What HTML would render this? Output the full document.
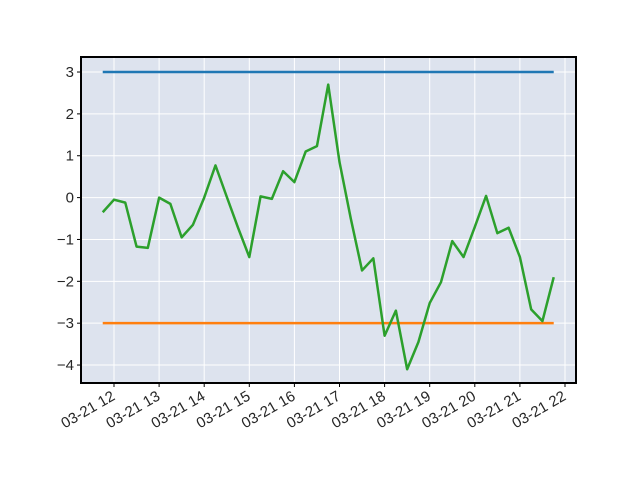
<!DOCTYPE html>
<html><head><meta charset="utf-8"><style>
body{margin:0;background:#fff;}
text{font-family:"Liberation Sans","DejaVu Sans",sans-serif;font-size:15px;fill:#262626;}
</style></head><body>
<svg id="chart" width="640" height="480">
<rect x="81" y="57" width="495" height="326" fill="#dde3ee"/>
<g id="grid"></g><g id="series"></g>
<rect x="81" y="57" width="495" height="326" fill="none" stroke="#000" stroke-width="2"/>
<g id="axes"></g>
</svg>
<script>
const yTicks=[-4,-3,-2,-1,0,1,2,3];
const xHours=[12,13,14,15,16,17,18,19,20,21,22];
const xTickLabels=["03-21 12","03-21 13","03-21 14","03-21 15","03-21 16","03-21 17","03-21 18","03-21 19","03-21 20","03-21 21","03-21 22"];
const startHour=11.75, stepHour=0.25;
const upperValues=3, lowerValues=-3;
const greenValues=[-0.35,-0.05,-0.12,-1.17,-1.2,0.0,-0.15,-0.95,-0.65,0.0,0.77,0.02,-0.72,-1.42,0.03,-0.03,0.63,0.37,1.1,1.23,2.7,0.85,-0.5,-1.74,-1.45,-3.3,-2.7,-4.1,-3.45,-2.52,-2.02,-1.04,-1.42,-0.7,0.04,-0.85,-0.72,-1.42,-2.67,-2.95,-1.9];
const NS="http://www.w3.org/2000/svg";
const xs=h=>114+(h-12)*45.1;
const ys=v=>197.6-v*41.86;
function mk(p,t,a){const e=document.createElementNS(NS,t);for(const k in a)e.setAttribute(k,a[k]);p.appendChild(e);return e;}
const grid=document.getElementById('grid'),axes=document.getElementById('axes'),ser=document.getElementById('series');
yTicks.forEach(v=>{const y=ys(v);
 const l=mk(grid,'line',{x1:81,x2:576,y1:y,y2:y,stroke:'#fff','stroke-width':1});
 
 
 mk(axes,'line',{x1:77,x2:81,y1:y,y2:y,stroke:'#000'});
 const t=mk(axes,'text',{x:74,y:y+5,'text-anchor':'end'});t.textContent=v<0?'\u2212'+(-v):v;
 
 
});
xHours.forEach((h,i)=>{const x=xs(h);
 const l=mk(grid,'line',{x1:x,x2:x,y1:57,y2:383,stroke:'#fff','stroke-width':1});
 
 
 mk(axes,'line',{x1:x,x2:x,y1:383,y2:387,stroke:'#000'});
 const t=mk(axes,'text',{x:x+2,y:399,'text-anchor':'end',transform:`rotate(-30 ${x+2} 399)`});t.textContent=xTickLabels[i];
 
 
});
const n=greenValues.length, x0=xs(startHour), x1=xs(startHour+(n-1)*stepHour);
const up=mk(ser,'line',{x1:x0,x2:x1,y1:ys(upperValues),y2:ys(upperValues),stroke:'#1f77b4','stroke-width':2.5});


const lo=mk(ser,'line',{x1:x0,x2:x1,y1:ys(lowerValues),y2:ys(lowerValues),stroke:'#ff7f0e','stroke-width':2.5});


const g=mk(ser,'polyline',{points:greenValues.map((v,i)=>xs(startHour+i*stepHour)+','+ys(v)).join(' '),fill:'none',stroke:'#2ca02c','stroke-width':2.5,'stroke-linejoin':'round'});


</script>
</body></html>
